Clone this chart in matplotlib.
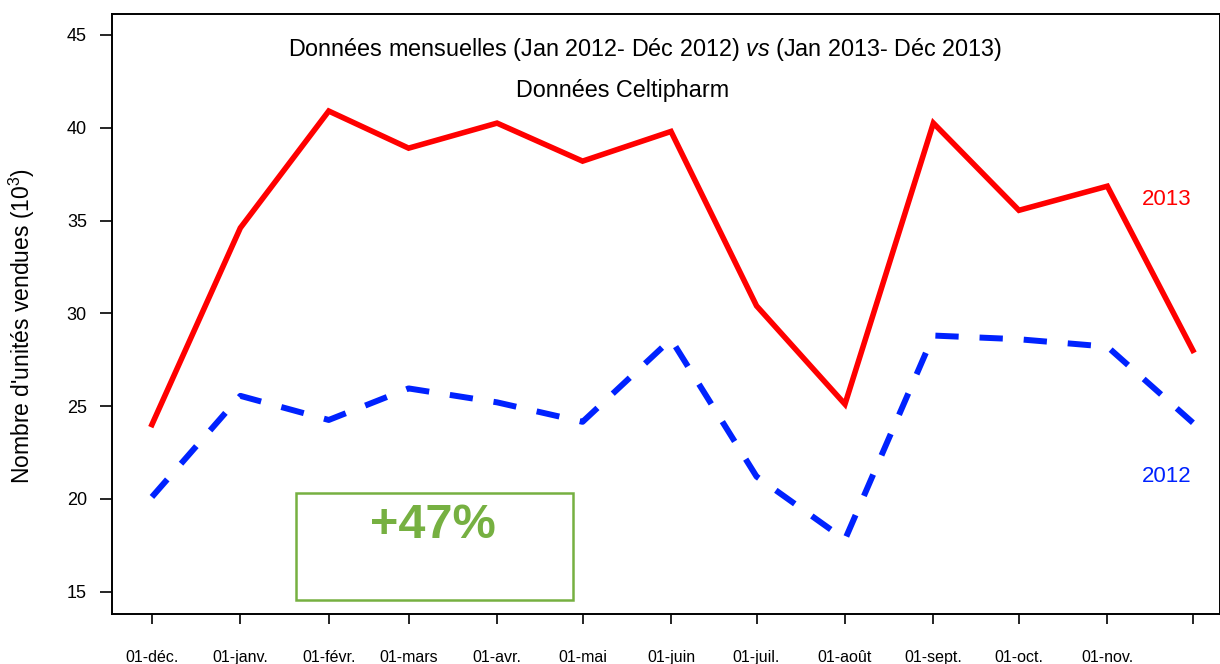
import matplotlib
matplotlib.use("Agg")
import matplotlib.pyplot as plt
import pandas as pd
from matplotlib.patches import Rectangle

plt.rcParams['font.family'] = ['Liberation Sans', 'DejaVu Sans']
plt.rcParams['mathtext.fontset'] = 'custom'
plt.rcParams['mathtext.rm'] = 'Liberation Sans'
plt.rcParams['mathtext.it'] = 'Liberation Sans:italic'

# monthly points, 01-déc. 2012 -> 01-déc. 2013
months = pd.date_range("2012-12-01", periods=13, freq="MS")
month_labels = ["01-déc.", "01-janv.", "01-févr.", "01-mars", "01-avr.", "01-mai",
                "01-juin", "01-juil.", "01-août", "01-sept.", "01-oct.", "01-nov.", ""]

sales_2013 = [24.0, 34.6, 40.9, 38.9, 40.25, 38.2, 39.8, 30.4, 25.1, 40.25, 35.55, 36.85, 28.0]
sales_2012 = [20.1, 25.55, 24.25, 25.95, 25.2, 24.15, 28.6, 21.2, 17.8, 28.8, 28.6, 28.2, 24.1]

fig = plt.figure(figsize=(12.2, 6.64), dpi=100)
ax = fig.add_axes([0.0918, 0.0758, 0.9082, 0.9031])

ax.plot(months, sales_2013, color="#ff0000", lw=4.0, solid_joinstyle="miter")
ax.plot(months, sales_2012, color="#0022ff", lw=4.3, dashes=(3.9, 3.5))

ax.set_ylim(13.81, 46.13)
ax.set_xlim(months[0] - pd.Timedelta(days=14), months[-1] + pd.Timedelta(days=9.5))
ax.set_yticks([15, 20, 25, 30, 35, 40, 45])
ax.set_xticks(months)
ax.set_xticklabels(month_labels)
ax.minorticks_off()

ax.tick_params(axis="y", direction="out", length=8.6, width=1.2, pad=9.5, labelsize=13)
ax.tick_params(axis="x", direction="out", length=7.5, width=1.2, pad=19, labelsize=11.5)
for s in ax.spines.values():
    s.set_linewidth(1.4)

ax.set_ylabel("Nombre d'unités vendues (10$^3$)", fontsize=16.5)
ax.yaxis.set_label_coords(-0.068, 0.48)

fig.text(0.529, 0.925, r"Données mensuelles (Jan 2012- Déc 2012) $\mathit{vs}$ (Jan 2013- Déc 2013)",
         fontsize=16.8, ha="center", va="center")
fig.text(0.51, 0.864, "Données Celtipharm", fontsize=16.8, ha="center", va="center")

fig.text(0.9566, 0.700, "2013", color="#ff0000", fontsize=16, ha="center", va="center")
fig.text(0.9566, 0.283, "2012", color="#0022ff", fontsize=16, ha="center", va="center")

# highlighted growth box
green = "#76b041"
fig.add_artist(Rectangle((296 / 1220, 1 - 600 / 664), 277 / 1220, 107 / 664,
                         transform=fig.transFigure, fill=False, edgecolor=green, lw=1.8))
fig.text(433 / 1220, 1 - 525 / 664, "+47%", color=green, fontsize=35, fontweight="bold",
         ha="center", va="center")

fig.savefig("out.png", dpi=100)
